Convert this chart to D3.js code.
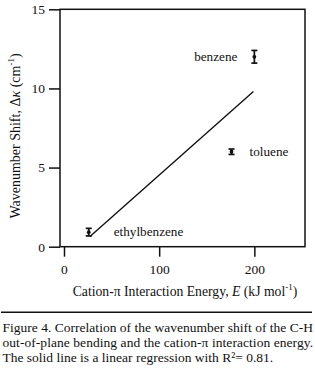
<!DOCTYPE html>
<html>
<head>
<meta charset="utf-8">
<script src="https://cdn.jsdelivr.net/npm/d3@7"></script>
<style>
  html, body { margin: 0; padding: 0; background: #fff; }
  svg text { font-family: "Liberation Serif", "Times New Roman", serif; fill: #111; }
</style>
</head>
<body>
<svg id="chart" width="315" height="375"></svg>
<script>
// ---- data ----
const compounds = ["benzene", "toluene", "ethylbenzene"];
const energy = [200, 176, 26];          // E (kJ mol^-1)
const shift = [12.0, 6.0, 0.92];        // Δκ (cm^-1)
const shiftErr = [0.4, 0.17, 0.24];
const fitX = [27.3, 199];               // linear regression endpoints
const fitY = [0.65, 9.8];
const xTicks = [0, 100, 200];
const yTicks = [0, 5, 10, 15];
const captionLines = [
  "Figure 4. Correlation of the wavenumber shift of the C-H",
  "out-of-plane bending and the cation-\u03c0 interaction energy.",
  "The solid line is a linear regression with R\u00b2= 0.81."
];

const svg = d3.select("#chart");
const L = 60, R = 305, T = 9.3, B = 246.7;
const x = d3.scaleLinear().domain([-4.2, 253.2]).range([L, R]);
const y = d3.scaleLinear().domain([0, 15]).range([B, T]);
const ink = "#111";

// frame
svg.append("rect").attr("x", L).attr("y", T).attr("width", R - L).attr("height", B - T)
  .attr("fill", "none").attr("stroke", ink).attr("stroke-width", 1.5);

// axes
const yAxis = svg.append("g").attr("transform", `translate(${L},0)`)
  .call(d3.axisLeft(y).tickValues(yTicks).tickSize(11).tickPadding(4).tickFormat(d3.format("d")));
const xAxis = svg.append("g").attr("transform", `translate(0,${B})`)
  .call(d3.axisBottom(x).tickValues(xTicks).tickSize(10).tickPadding(8).tickFormat(d3.format("d")));
[xAxis, yAxis].forEach(g => {
  g.select(".domain").remove();
  g.selectAll(".tick line").attr("stroke", ink).attr("stroke-width", 1.5);
  g.selectAll(".tick text").attr("font-size", 13.5).attr("font-family", "Liberation Serif").attr("fill", ink);
});

// regression line
svg.append("line")
  .attr("x1", x(fitX[0])).attr("y1", y(fitY[0]))
  .attr("x2", x(fitX[1])).attr("y2", y(fitY[1]))
  .attr("stroke", ink).attr("stroke-width", 1.4);

// error bars + points
const pts = compounds.map((c, i) => ({ c, e: energy[i], s: shift[i], err: shiftErr[i] }));
const cap = 3;
const g = svg.append("g");
pts.forEach(p => {
  const cx = x(p.e), y1 = y(p.s + p.err), y2 = y(p.s - p.err);
  g.append("line").attr("x1", cx).attr("x2", cx).attr("y1", y1).attr("y2", y2)
    .attr("stroke", ink).attr("stroke-width", 1.7);
  [y1, y2].forEach(yy => g.append("line").attr("x1", cx - cap).attr("x2", cx + cap)
    .attr("y1", yy).attr("y2", yy).attr("stroke", ink).attr("stroke-width", 1.7));
  g.append("circle").attr("cx", cx).attr("cy", y(p.s)).attr("r", 1.9).attr("fill", ink);
});

// point labels
const labelPos = {
  benzene: { dx: -17, anchor: "end" },
  toluene: { dx: 18, anchor: "start" },
  ethylbenzene: { dx: 25, anchor: "start" }
};
pts.forEach(p => {
  const lp = labelPos[p.c];
  svg.append("text").attr("x", x(p.e) + lp.dx).attr("y", y(p.s)).attr("dy", "0.33em")
    .attr("text-anchor", lp.anchor).attr("font-size", 13.2).text(p.c);
});

// x axis title
const xt = svg.append("text").attr("x", 185).attr("y", 296).attr("text-anchor", "middle").attr("font-size", 13.7);
xt.append("tspan").text("Cation-\u03c0 Interaction Energy, ");
xt.append("tspan").attr("font-style", "italic").text("E");
xt.append("tspan").text(" (kJ mol");
xt.append("tspan").attr("dy", -6).attr("font-size", 9).text("-1");
xt.append("tspan").attr("dy", 6).text(")");

// y axis title
const yt = svg.append("text").attr("transform", "translate(20,136) rotate(-90)")
  .attr("text-anchor", "middle").attr("font-size", 14);
yt.append("tspan").text("Wavenumber Shift, \u0394");
yt.append("tspan").attr("font-style", "italic").text("\u03ba");
yt.append("tspan").text(" (cm");
yt.append("tspan").attr("dy", -6).attr("font-size", 9).text("-1");
yt.append("tspan").attr("dy", 6).text(")");

// rule
svg.append("line").attr("x1", 1).attr("x2", 312).attr("y1", 312.3).attr("y2", 312.3)
  .attr("stroke", ink).attr("stroke-width", 1.5);

// caption (first two lines justified to the full width)
captionLines.forEach((line, i) => {
  const t = svg.append("text").attr("x", 2.5).attr("y", 332 + i * 15).attr("font-size", 13.5).text(line);
  if (i < captionLines.length - 1) t.attr("textLength", 310.5).attr("lengthAdjust", "spacing");
});
</script>
</body>
</html>
